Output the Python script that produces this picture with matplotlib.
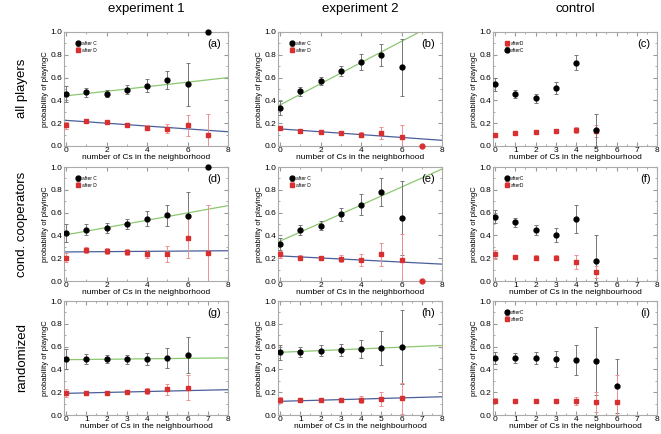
import numpy as np
import matplotlib.pyplot as plt

plt.rcParams['font.family'] = ['Liberation Sans', 'DejaVu Sans']

W, H = 661, 434

# ---- data ----
x7 = [0, 1, 2, 3, 4, 5, 6]
x8 = [0, 1, 2, 3, 4, 5, 6, 7]
x6 = [0, 1, 2, 3, 4, 5]

# (a) experiment 1, all players
a_c = [0.46, 0.47, 0.46, 0.495, 0.53, 0.58, 0.54]
a_c_err = [0.07, 0.04, 0.03, 0.04, 0.06, 0.08, 0.19]
a_c_extra = 1.0
a_d = [0.18, 0.22, 0.21, 0.185, 0.16, 0.15, 0.18, 0.10]
a_d_err = [0.03, 0.02, 0.015, 0.02, 0.02, 0.04, 0.09, 0.18]
a_fit_c = [0.44, 0.020]
a_fit_d = [0.225, -0.0125]

# (b) experiment 2, all players
b_c = [0.335, 0.48, 0.57, 0.655, 0.74, 0.80, 0.69]
b_c_err = [0.06, 0.04, 0.035, 0.045, 0.07, 0.095, 0.25]
b_d = [0.16, 0.135, 0.125, 0.115, 0.10, 0.115, 0.08]
b_d_err = [0.015, 0.01, 0.01, 0.012, 0.02, 0.05, 0.10]
b_d_extra = 0.0
b_fit_c = [0.36, 0.093]
b_fit_d = [0.15, -0.0125]

# (c) control, all players
c_c = [0.54, 0.46, 0.42, 0.51, 0.73, 0.14]
c_c_err = [0.06, 0.035, 0.04, 0.055, 0.065, 0.14]
c_d = [0.10, 0.11, 0.12, 0.13, 0.14, 0.13]
c_d_err = [0.015, 0.01, 0.01, 0.015, 0.03, 0.05]

# (d) experiment 1, cond. cooperators
d_c = [0.42, 0.45, 0.465, 0.50, 0.545, 0.575, 0.57]
d_c_err = [0.08, 0.05, 0.04, 0.045, 0.065, 0.09, 0.21]
d_c_extra = 1.0
d_d = [0.205, 0.27, 0.265, 0.255, 0.24, 0.235, 0.375, 0.25]
d_d_err = [0.04, 0.025, 0.025, 0.03, 0.035, 0.07, 0.175, 0.42]
d_fit_c = [0.405, 0.032]
d_fit_d = [0.255, 0.0013]

# (e) experiment 2, cond. cooperators
e_c = [0.325, 0.45, 0.485, 0.585, 0.67, 0.78, 0.555]
e_c_err = [0.055, 0.045, 0.04, 0.055, 0.09, 0.12, 0.325]
e_d = [0.235, 0.205, 0.20, 0.195, 0.185, 0.235, 0.18]
e_d_err = [0.03, 0.02, 0.02, 0.03, 0.055, 0.10, 0.23]
e_d_extra = 0.0
e_fit_c = [0.35, 0.079]
e_fit_d = [0.22, -0.009]

# (f) control, cond. cooperators
f_c = [0.565, 0.515, 0.45, 0.405, 0.545, 0.175]
f_c_err = [0.06, 0.04, 0.045, 0.06, 0.12, 0.23]
f_d = [0.235, 0.21, 0.205, 0.205, 0.165, 0.08]
f_d_err = [0.04, 0.02, 0.02, 0.02, 0.06, 0.05]

# (g) experiment 1, randomized
g_c = [0.49, 0.49, 0.49, 0.49, 0.49, 0.50, 0.525]
g_c_err = [0.085, 0.045, 0.035, 0.04, 0.055, 0.09, 0.16]
g_d = [0.19, 0.19, 0.195, 0.20, 0.21, 0.225, 0.24]
g_d_err = [0.035, 0.015, 0.015, 0.015, 0.025, 0.05, 0.11]
g_fit_c = [0.485, 0.002]
g_fit_d = [0.19, 0.004]

# (h) experiment 2, randomized
h_c = [0.55, 0.555, 0.565, 0.57, 0.58, 0.59, 0.595]
h_c_err = [0.065, 0.045, 0.045, 0.05, 0.08, 0.15, 0.325]
h_d = [0.13, 0.13, 0.13, 0.135, 0.135, 0.14, 0.145]
h_d_err = [0.025, 0.01, 0.01, 0.015, 0.03, 0.06, 0.14]
h_fit_c = [0.55, 0.0075]
h_fit_d = [0.12, 0.005]

# (i) control, randomized
i_c = [0.50, 0.50, 0.50, 0.49, 0.485, 0.475, 0.255]
i_c_err = [0.055, 0.04, 0.05, 0.07, 0.13, 0.30, 0.24]
i_d = [0.125, 0.12, 0.12, 0.12, 0.12, 0.115, 0.11]
i_d_err = [0.02, 0.01, 0.01, 0.015, 0.035, 0.085, 0.24]

col_titles = ["experiment 1", "experiment 2", "control"]
row_titles = ["all players", "cond. cooperators", "randomized"]

# ---- layout in pixels ----
col_left = [64, 278, 493]
row_top = [32, 167, 301]
ax_w, ax_h = 164, 114

BLACK = "black"
RED = "#d83030"
GREEN = "#8cc870"
BLUE = "#4a5f9a"


def make_ax(r, c):
    l = col_left[c] / W
    b = (H - row_top[r] - ax_h) / H
    ax = fig.add_axes([l, b, ax_w / W, ax_h / H])
    ax.set_xlim(-0.1, 8)
    ax.set_ylim(0, 1.0)
    ax.set_yticks(np.arange(0, 1.01, 0.2))
    ax.set_yticklabels(["%.1f" % v for v in np.arange(0, 1.01, 0.2)])
    ax.set_yticks(np.arange(0, 1.01, 0.1), minor=True)
    if c < 2 and r < 2:
        ax.set_xticks([0, 2, 4, 6, 8])
        ax.set_xticks(np.arange(0, 8.1, 1), minor=True)
        ax.set_xlabel("number of Cs in the neighborhood", fontsize=6, labelpad=0)
    else:
        ax.set_xticks(np.arange(0, 9, 1))
        ax.set_xticks(np.arange(0, 8.1, 0.5), minor=True)
        ax.set_xlabel("number of Cs in the neighbourhood", fontsize=6, labelpad=0)
    ax.set_ylabel("probability of playingC", fontsize=5.5, labelpad=1)
    ax.tick_params(which="both", direction="in", top=True, right=True,
                   color="#999999", labelsize=6, pad=1)
    ax.tick_params(which="major", length=3)
    ax.tick_params(which="minor", length=1.5)
    for s in ax.spines.values():
        s.set_color("#aaaaaa")
        s.set_linewidth(0.8)
    return ax


def after_c(ax, x, y, err, label="after C"):
    ax.errorbar(x, y, yerr=err, fmt="o", color=BLACK, ms=3.5,
                ecolor="#777777", elinewidth=0.7, capsize=1.5, capthick=0.7,
                label=label, zorder=3)


def after_d(ax, x, y, err, label="after D"):
    ax.errorbar(x, y, yerr=err, fmt="s", color=RED, ms=3,
                ecolor="#ee9090", elinewidth=0.7, capsize=1.5, capthick=0.7,
                label=label, zorder=3)


def fit(ax, coef, color):
    xx = np.array([-0.1, 8])
    ax.plot(xx, coef[0] + coef[1] * xx, color=color, lw=0.9, zorder=2)


def legend(ax):
    ax.legend(loc="upper left", bbox_to_anchor=(0.05, 0.95), fontsize=3.5,
              frameon=False, handletextpad=0.3, labelspacing=0.3,
              borderpad=0.2, handlelength=1.0)


def panel_label(ax, s):
    ax.text(0.96, 0.94, s, transform=ax.transAxes, ha="right", va="top",
            fontsize=8)


fig = plt.figure(figsize=(W / 100, H / 100), dpi=100)

# (a)
ax = make_ax(0, 0)
fit(ax, a_fit_c, GREEN)
fit(ax, a_fit_d, BLUE)
after_c(ax, x7, a_c, a_c_err)
after_d(ax, x8, a_d, a_d_err)
ax.plot([7], [a_c_extra], "o", color=BLACK, ms=3.5, clip_on=False, zorder=4)
legend(ax)
panel_label(ax, "(a)")

# (b)
ax = make_ax(0, 1)
fit(ax, b_fit_c, GREEN)
fit(ax, b_fit_d, BLUE)
after_c(ax, x7, b_c, b_c_err)
after_d(ax, x7, b_d, b_d_err)
ax.plot([7], [b_d_extra], "o", color=RED, ms=3.5, clip_on=False, zorder=4)
legend(ax)
panel_label(ax, "(b)")

# (c)
ax = make_ax(0, 2)
after_d(ax, x6, c_d, c_d_err, label="afterD")
after_c(ax, x6, c_c, c_c_err, label="afterC")
legend(ax)
panel_label(ax, "(c)")

# (d)
ax = make_ax(1, 0)
fit(ax, d_fit_c, GREEN)
fit(ax, d_fit_d, BLUE)
after_c(ax, x7, d_c, d_c_err)
after_d(ax, x8, d_d, d_d_err)
ax.plot([7], [d_c_extra], "o", color=BLACK, ms=3.5, clip_on=False, zorder=4)
legend(ax)
panel_label(ax, "(d)")

# (e)
ax = make_ax(1, 1)
fit(ax, e_fit_c, GREEN)
fit(ax, e_fit_d, BLUE)
after_c(ax, x7, e_c, e_c_err)
after_d(ax, x7, e_d, e_d_err)
ax.plot([7], [e_d_extra], "o", color=RED, ms=3.5, clip_on=False, zorder=4)
legend(ax)
panel_label(ax, "(e)")

# (f)
ax = make_ax(1, 2)
after_c(ax, x6, f_c, f_c_err, label="afterC")
after_d(ax, x6, f_d, f_d_err, label="afterD")
legend(ax)
panel_label(ax, "(f)")

# (g)
ax = make_ax(2, 0)
fit(ax, g_fit_c, GREEN)
fit(ax, g_fit_d, BLUE)
after_c(ax, x7, g_c, g_c_err)
after_d(ax, x7, g_d, g_d_err)
panel_label(ax, "(g)")

# (h)
ax = make_ax(2, 1)
fit(ax, h_fit_c, GREEN)
fit(ax, h_fit_d, BLUE)
after_c(ax, x7, h_c, h_c_err)
after_d(ax, x7, h_d, h_d_err)
panel_label(ax, "(h)")

# (i)
ax = make_ax(2, 2)
after_c(ax, x7, i_c, i_c_err, label="afterC")
after_d(ax, x7, i_d, i_d_err, label="afterD")
legend(ax)
panel_label(ax, "(i)")

# column and row titles
col_centers = [146, 360, 575]
for c, t in enumerate(col_titles):
    fig.text(col_centers[c] / W, 1 - 9 / H, t, ha="center", va="center",
             fontsize=9.5)
row_centers = [88, 224, 358]
for r, t in enumerate(row_titles):
    fig.text(22 / W, 1 - row_centers[r] / H, t, ha="center", va="center",
             rotation=90, fontsize=9.5)

plt.savefig("out.png", dpi=100)
